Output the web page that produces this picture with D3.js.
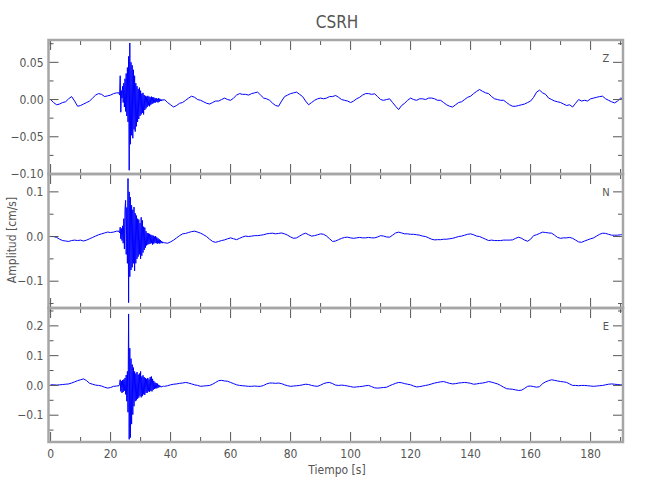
<!DOCTYPE html>
<html><head><meta charset="utf-8">
<script src="https://cdn.jsdelivr.net/npm/d3@7"></script>
<style>
body{margin:0;background:#fff;}
text{font-family:"Liberation Sans Narrow","DejaVu Sans Condensed","Roboto Condensed",sans-serif;fill:#555;}
</style></head>
<body><svg id="c" width="650" height="500"></svg>
<script>
const title = "CSRH";
const components = ["Z","N","E"];
const xLabel = "Tiempo [s]";
const yLabel = "Amplitud [cm/s]";
const xTicks = [0,20,40,60,80,100,120,140,160,180];
const yDomains = {Z:[-0.10,0.08], N:[-0.16,0.14], E:[-0.19,0.26]};
const yMajor = {Z:[-0.10,-0.05,0,0.05], N:[-0.1,0,0.1], E:[-0.1,0,0.1,0.2]};
const yMinorStep = {Z:0.025, N:0.05, E:0.05};
const yFormat = {Z:2, N:1, E:1};

// sample times (s)
const preT = d3.range(0,23);
const burstT = d3.range(76).map(i => +(22.8 + 0.2*i).toFixed(1));
const postT = d3.range(38,192);

// Z component
const zPre = [0.000,-0.004,-0.007,-0.006,-0.004,-0.003,0.001,0.004,-0.002,-0.009,
  -0.008,-0.006,-0.004,-0.002,0.002,0.006,0.008,0.007,0.004,0.005,0.006,0.008,0.009];
const zBurst = [0.009,0.006,0.032,-0.017,0.012,0.002,0.018,-0.004,0.022,-0.010,
  0.028,-0.016,0.035,-0.022,0.043,-0.030,0.058,-0.095,0.076,-0.060,
  0.050,-0.048,0.046,-0.052,0.040,-0.040,0.032,-0.043,0.022,-0.036,
  0.018,-0.030,0.014,-0.026,0.016,-0.022,0.012,-0.020,0.008,-0.018,
  0.009,-0.020,0.006,-0.014,0.005,-0.012,0.004,-0.010,0.005,-0.008,
  0.004,-0.009,0.003,-0.007,0.004,-0.006,0.003,-0.005,0.003,-0.004,
  0.002,-0.004,0.002,-0.003,0.001,-0.004,0.002,-0.003,0.001,-0.002,
  0.000,-0.002,0.000,-0.001,0.000,-0.001];
const zPost = [0.000,-0.004,
  -0.007,-0.010,-0.008,-0.005,-0.004,-0.001,0.002,0.0045,0.003,0.000,
  -0.001,-0.003,-0.005,-0.006,-0.004,-0.002,-0.002,0.000,0.002,0.000,
  -0.001,0.002,0.006,0.008,0.007,0.007,0.006,0.008,0.009,0.010,
  0.006,0.002,0.001,-0.001,-0.005,-0.008,-0.009,-0.002,0.004,0.006,
  0.008,0.009,0.010,0.007,0.004,-0.002,-0.007,-0.004,-0.001,0.001,
  0.002,0.001,0.002,0.004,0.004,0.0055,0.003,0.000,-0.001,-0.002,
  -0.004,-0.002,0.001,0.003,0.006,0.008,0.008,0.007,0.0077,0.004,
  0.000,-0.001,0.000,0.001,-0.004,-0.009,-0.0135,-0.008,-0.005,-0.001,
  0.002,0.000,-0.001,0.001,0.001,0.000,0.002,0.002,0.001,-0.001,
  -0.001,-0.004,-0.007,-0.009,-0.010,-0.007,-0.004,-0.003,0.000,0.003,
  0.0045,0.008,0.011,0.0135,0.011,0.009,0.008,0.004,0.001,0.000,
  -0.001,-0.001,-0.004,-0.007,-0.009,-0.009,-0.008,-0.007,-0.006,-0.004,
  -0.002,0.003,0.010,0.0126,0.009,0.007,0.002,0.000,-0.002,-0.003,
  -0.004,-0.006,-0.008,-0.007,-0.010,-0.005,0.000,-0.002,-0.001,-0.002,
  0.001,0.002,0.003,0.004,0.0045,0.001,-0.001,-0.003,-0.0045,-0.002,
  0.002,0.001];

// N component
const nPre = [0.000,0.000,-0.002,-0.006,-0.009,-0.010,-0.011,-0.009,-0.008,-0.009,
  -0.008,-0.010,-0.008,-0.005,-0.002,0.001,0.004,0.006,0.008,0.010,0.009,0.010,0.012];
const nBurst = [0.012,0.008,0.021,-0.005,0.018,-0.009,0.024,-0.015,0.040,-0.028,
  0.060,0.081,-0.040,0.065,-0.060,0.130,-0.148,0.100,-0.090,0.088,
  -0.075,0.070,-0.069,0.060,-0.060,0.066,-0.077,0.052,-0.060,0.047,
  -0.050,0.040,-0.045,0.038,-0.040,0.030,-0.050,0.043,-0.043,0.036,
  -0.036,0.022,-0.030,0.020,-0.025,0.012,-0.020,0.008,-0.018,0.007,
  -0.017,0.006,-0.016,0.004,-0.015,0.003,-0.018,0.002,-0.016,0.000,
  -0.014,0.001,-0.015,-0.002,-0.016,-0.004,-0.015,-0.006,-0.016,-0.008,
  -0.014,-0.010,-0.015,-0.012,-0.014,-0.013];
const nPost = [-0.014,-0.015,
  -0.012,-0.008,-0.003,0.002,0.006,0.007,0.009,0.011,0.012,0.010,
  0.0075,0.004,0.000,-0.006,-0.011,-0.013,-0.011,-0.009,-0.0075,-0.005,
  -0.003,-0.005,-0.007,-0.004,-0.001,0.001,0.000,0.001,0.002,0.002,
  0.003,0.004,0.006,0.007,0.0075,0.006,0.007,0.008,0.006,0.003,
  -0.001,-0.004,-0.003,0.001,0.005,0.0075,0.004,0.001,0.002,0.004,
  0.006,0.005,0.001,-0.005,-0.011,-0.010,-0.007,-0.004,-0.002,-0.0015,
  -0.003,-0.004,-0.003,-0.002,-0.003,-0.003,-0.002,-0.003,-0.003,-0.001,
  0.002,0.001,-0.001,-0.0015,0.003,0.008,0.0098,0.008,0.006,0.006,
  0.005,0.005,0.004,0.003,0.001,0.000,-0.003,-0.006,-0.0075,-0.007,
  -0.007,-0.006,-0.006,-0.005,-0.004,-0.002,0.000,0.001,0.003,0.005,
  0.006,0.004,0.001,0.000,-0.003,-0.006,-0.009,-0.008,-0.009,-0.009,
  -0.009,-0.008,-0.008,-0.008,-0.0075,-0.004,-0.0015,-0.004,-0.008,-0.0105,
  -0.006,0.002,0.004,0.007,0.0098,0.009,0.008,0.0075,0.003,-0.002,
  -0.004,-0.003,-0.003,-0.002,-0.004,-0.008,-0.012,-0.013,-0.010,-0.0075,
  -0.005,-0.003,0.001,0.005,0.0075,0.007,0.005,0.003,0.003,0.003,
  0.004,0.004];

// E component
const ePre = [0.002,0.002,0.001,0.002,0.003,0.004,0.005,0.008,0.012,0.016,
  0.019,0.022,0.016,0.007,0.004,0.001,0.000,-0.002,-0.006,-0.009,-0.007,-0.003,-0.002];
const eBurst = [-0.001,0.004,0.019,-0.020,0.015,-0.025,0.018,-0.022,0.020,-0.018,
  0.025,-0.030,0.035,-0.053,0.047,-0.090,0.240,-0.181,0.125,-0.175,
  0.090,-0.130,0.070,-0.098,0.060,-0.070,0.047,-0.053,0.040,-0.050,
  0.045,-0.045,0.036,-0.041,0.040,-0.035,0.047,-0.040,0.030,-0.036,
  0.034,-0.030,0.028,-0.032,0.025,-0.025,0.022,-0.025,0.025,-0.020,
  0.020,-0.022,0.028,-0.018,0.030,-0.020,0.022,-0.015,0.015,-0.012,
  0.010,-0.010,0.008,-0.010,0.006,-0.008,0.002,-0.006,0.000,-0.005,
  -0.003,-0.006,-0.002,-0.004,-0.002,-0.003];
const ePost = [-0.003,-0.001,
  0.002,0.004,0.005,0.007,0.008,0.010,0.008,0.005,0.002,0.000,
  -0.003,-0.002,-0.001,0.000,0.004,0.010,0.016,0.017,0.015,0.014,
  0.010,0.006,0.002,0.000,-0.001,-0.002,-0.003,-0.003,-0.002,-0.003,
  -0.003,0.000,0.005,0.008,0.008,0.007,0.008,0.006,0.002,-0.001,
  -0.003,-0.002,-0.001,0.000,0.002,0.004,0.003,0.000,-0.002,-0.003,
  0.001,0.006,0.009,0.010,0.006,0.001,0.000,0.001,0.000,-0.002,
  -0.004,-0.006,-0.005,-0.004,-0.003,-0.001,0.000,-0.004,-0.008,-0.009,
  -0.008,-0.007,-0.006,-0.001,0.003,0.007,0.010,0.009,0.006,0.004,
  0.002,-0.002,-0.005,-0.004,-0.002,0.000,0.002,0.005,0.008,0.010,
  0.012,0.013,0.010,0.007,0.005,0.006,0.008,0.009,0.010,0.009,
  0.007,0.004,0.005,0.007,0.008,0.010,0.013,0.011,0.008,0.005,
  0.000,-0.006,-0.011,-0.012,-0.013,-0.015,-0.017,-0.016,-0.010,-0.003,
  -0.002,-0.004,-0.006,-0.004,0.006,0.012,0.016,0.019,0.017,0.015,
  0.013,0.012,0.010,0.005,0.000,0.000,-0.001,0.000,0.000,-0.001,
  -0.002,-0.003,-0.002,-0.001,0.000,0.002,0.004,0.005,0.004,0.003,
  0.002,0.002];

const series = {
  Z: [zPre, zBurst, zPost],
  N: [nPre, nBurst, nPost],
  E: [ePre, eBurst, ePost]
};

const svg = d3.select("#c");
const L = 48.5, R = 623;
const panelTop = {Z:40, N:174, E:308};
const panelH = 134;
const x = d3.scaleLinear().domain([-0.7, 190.8]).range([L, R]);
const frameColor = "#a6a6a6", tickColor = "#555";

function build(vals){
  const [pre, burst, post] = vals;
  const pts = [];
  preT.forEach((t,i)=>pts.push([t, pre[i]]));
  burstT.forEach((t,i)=>pts.push([t, burst[i]]));
  postT.forEach((t,i)=>pts.push([t, post[i]]));
  return pts;
}

components.forEach((c, k) => {
  const top = panelTop[c], bot = top + panelH;
  const y = d3.scaleLinear().domain(yDomains[c]).range([bot, top]);
  const g = svg.append("g");

  // trace
  const line = d3.line().x(d=>x(d[0])).y(d=>y(d[1]));
  g.append("path").datum(build(series[c]))
    .attr("d", line).attr("fill","none").attr("stroke","#0000ff")
    .attr("stroke-width",1).attr("stroke-linejoin","round");

  // y ticks
  const [y0, y1] = yDomains[c];
  const st = yMinorStep[c];
  const minors = d3.range(Math.ceil(y0/st - 1e-6), Math.floor(y1/st + 1e-6)+1).map(i=>+(i*st).toFixed(4));
  minors.forEach(v => {
    const isMaj = yMajor[c].some(m => Math.abs(m - v) < 1e-6);
    const len = isMaj ? 10 : 5;
    [[L, L+len],[R, R-len]].forEach(([a,b]) => {
      g.append("line").attr("x1",a).attr("x2",b).attr("y1",y(v)).attr("y2",y(v))
        .attr("stroke",tickColor).attr("stroke-width",1);
    });
  });
  yMajor[c].forEach(v => {
    g.append("text").attr("x", L-5).attr("y", y(v)).attr("dy","0.35em")
      .attr("text-anchor","end").attr("font-size",12)
      .text(v.toFixed(yFormat[c]).replace("-", "\u2212"));
  });

  // x ticks top and bottom
  d3.range(0, 191, 10).forEach(t => {
    const len = t % 20 === 0 ? 10 : 5;
    [[top, top+len],[bot, bot-len]].forEach(([a,b]) => {
      g.append("line").attr("x1",x(t)).attr("x2",x(t)).attr("y1",a).attr("y2",b)
        .attr("stroke",tickColor).attr("stroke-width",1);
    });
  });

  // frame
  g.append("rect").attr("x",L).attr("y",top).attr("width",R-L).attr("height",panelH)
    .attr("fill","none").attr("stroke",frameColor).attr("stroke-width",2.5);

  // component label
  g.append("text").attr("x",606).attr("y",top+22).attr("text-anchor","middle")
    .attr("font-size",11).text(c);
});

// x tick labels
xTicks.forEach(t => {
  svg.append("text").attr("x", x(t)).attr("y", 458).attr("text-anchor","middle")
    .attr("font-size",12).text(t);
});

svg.append("text").attr("x",337).attr("y",28).attr("text-anchor","middle")
  .attr("font-size",17).text(title);
svg.append("text").attr("x",337).attr("y",474).attr("text-anchor","middle")
  .attr("font-size",12).text(xLabel);
svg.append("text").attr("transform","translate(16,240) rotate(-90)")
  .attr("text-anchor","middle").attr("font-size",12).text(yLabel);
</script></body></html>
